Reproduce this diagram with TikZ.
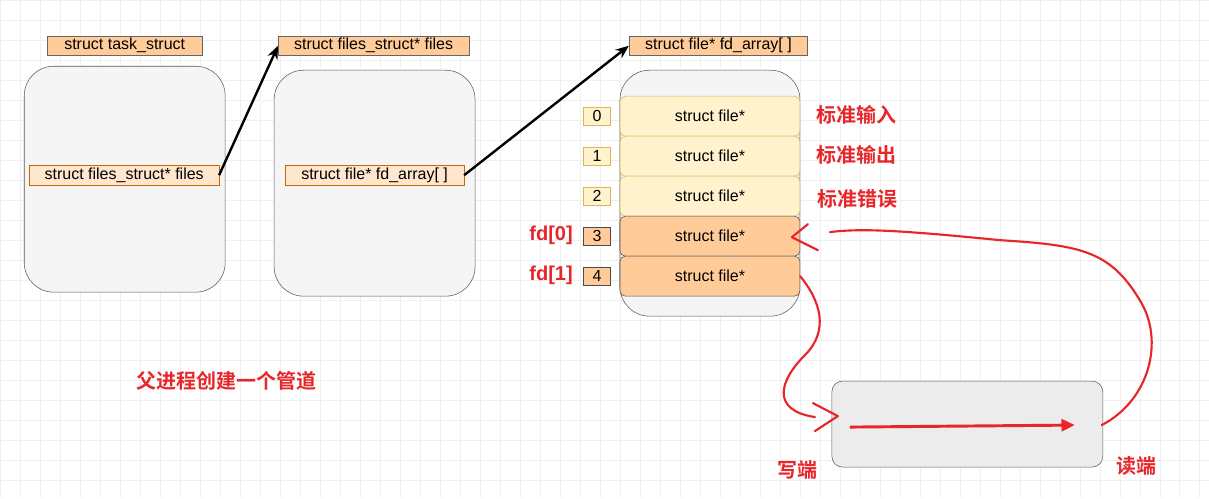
\documentclass[tikz,border=0pt]{standalone}
\usepackage{fontspec}
\setmainfont{Liberation Sans}
\newfontfamily\cjk{Noto Sans CJK SC}[BoldFont={* Bold}]
\usetikzlibrary{arrows.meta}
\definecolor{org}{HTML}{FFCC99}
\definecolor{lorg}{HTML}{FFE6CC}
\definecolor{ylw}{HTML}{FFF2CC}
\definecolor{ylwb}{HTML}{D6B656}
\definecolor{redc}{HTML}{E8262A}
\begin{document}
\begin{tikzpicture}[x=0.75pt,y=-0.75pt,
  lbl/.style={draw=gray!80!black,fill=org,inner sep=0pt,minimum height=14.25pt,font=\fontsize{12}{13}\selectfont},
  inl/.style={draw=orange!80!black,fill=lorg,inner sep=0pt,minimum height=15pt,font=\fontsize{12}{13}\selectfont},
  big/.style={draw=gray!70!black,fill=gray!8,rounded corners=22pt},
  row/.style={draw=ylwb,fill=ylw,rounded corners=4pt,minimum width=135pt,minimum height=30pt,inner sep=0pt,font=\fontsize{12}{13}\selectfont},
  rowo/.style={row,draw=black!70,fill=org},
  idx/.style={draw=ylwb,fill=ylw,minimum width=20pt,minimum height=14pt,inner sep=0pt,font=\fontsize{12}{13}\selectfont},
  idxo/.style={idx,draw=black!70,fill=org},
  red/.style={text=redc,font=\cjk\bfseries\fontsize{15}{17}\selectfont},
  rline/.style={draw=redc,line width=1.6pt,line cap=round,line join=round}]
\fill[white] (0,0) rectangle (1209,498);
\draw[gray!12,step=15pt] (0,0) grid (1209,498);
\useasboundingbox (0,0) rectangle (1209,498);
% boxes
\draw[big] (24,66) rectangle (225,292);
\draw[big] (274,70) rectangle (475,296);
\draw[big] (620,70) rectangle (800,316);
\node[lbl,minimum width=116pt] (t1) at (124.5,45.5) {struct task\_struct};
\node[lbl,minimum width=143pt] (t2) at (373.5,45.5) {struct files\_struct* files};
\node[lbl,minimum width=134pt] (t3) at (718.5,45.5) {struct file* fd\_array[ ]};
\node[inl,minimum width=142pt] (i1) at (124,175) {struct files\_struct* files};
\node[inl,minimum width=134pt] (i2) at (374.5,175) {struct file* fd\_array[ ]};
\node[row] (r0) at (710,116) {struct file*};
\node[row] (r1) at (710,156) {struct file*};
\node[row] (r2) at (710,196) {struct file*};
\node[rowo] (r3) at (710,236) {struct file*};
\node[rowo] (r4) at (710,276) {struct file*};
\node[idx] (n0) at (597,116) {0};
\node[idx] (n1) at (597,156) {1};
\node[idx] (n2) at (597,196) {2};
\node[idxo] (n3) at (597,236) {3};
\node[idxo] (n4) at (597,276) {4};
\node[red] (s0) at (857,115) {标准输入};
\node[red] (s1) at (857,155) {标准输出};
\node[red] (s2) at (858,199) {标准错误};
\node[red,font=\bfseries\fontsize{15}{17}\selectfont] (f0) at (551,235) {fd[0]};
\node[red,font=\bfseries\fontsize{15}{17}\selectfont] (f1) at (551,275) {fd[1]};
\node[red] (title) at (226,381) {父进程创建一个管道};
\draw[draw=gray!70!black,fill=gray!15,rounded corners=8pt] (832,381) rectangle (1103,467);
\node[red] (w) at (798,470) {写端};
\node[red] (rd) at (1137,466) {读端};
\coordinate (ps) at (850,427);
\coordinate (pe) at (1075,425);
\draw[redc,line width=2.2pt,-{Triangle[length=10pt,width=9pt]}] (ps) -- (pe);
% black arrows
\draw[line width=1.8pt,-{Stealth[length=10pt,width=8pt]}] (i1.east) -- (t2.west);
\draw[line width=1.8pt,-{Stealth[length=10pt,width=8pt]}] (i2.east) -- (t3.west);
% red curves
\draw[rline] (r4.east) .. controls (820,300) and (830,330) .. (805,355)
  .. controls (780,380) and (770,410) .. (815,417);
\draw[rline] (813,403) -- (838,416) -- (815,431);
\draw[rline] (1102,425) .. controls (1150,400) and (1165,340) .. (1140,300)
  .. controls (1110,250) and (1080,245) .. (1000,240)
  .. controls (900,230) and (860,228) .. (830,232);
\draw[rline] (808,224) -- (792,237) -- (818,250);
\end{tikzpicture}
\end{document}
